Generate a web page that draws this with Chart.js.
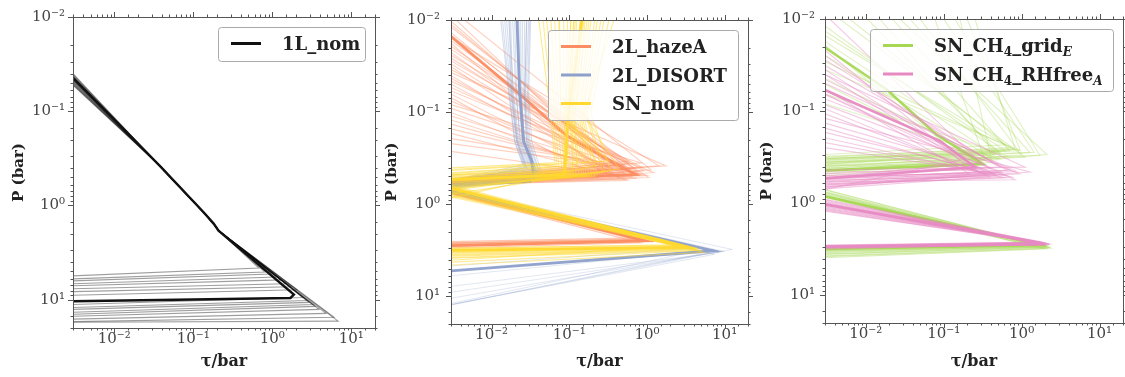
<!DOCTYPE html>
<html>
<head>
<meta charset="utf-8">
<script src="https://cdn.jsdelivr.net/npm/chart.js@4.4.0/dist/chart.umd.min.js"></script>
<style>
  html, body { margin: 0; padding: 0; background: #fff; }
  #wrap { position: relative; width: 1125px; height: 377px; overflow: hidden; }
  canvas { position: absolute; top: 0; }
</style>
</head>
<body>
<div id="wrap">
  <canvas id="c1" width="390" height="377" style="left:0px"></canvas>
  <canvas id="c2" width="385" height="377" style="left:378px"></canvas>
  <canvas id="c3" width="373" height="377" style="left:752px"></canvas>
</div>
<script>
// ---- axes ----
const TAU_MIN = 0.003, TAU_MAX = 20;
const P_MIN = 0.01, P_MAX = 20;

// ---- panel 1 : 1L_nom ----
const nomBold = [[0.003,0.0445],[0.0108,0.131],[0.0385,0.387],[0.136,1.19],[0.181,1.56],[0.209,1.85],[1.88,8.85],[1.7,9.6],[0.1,9.95],[0.003,10.4]];
const nomMid = [[0.0385,0.387],[0.136,1.19],[0.181,1.56],[0.209,1.85]];
const nomTopP = [0.040,0.042,0.047,0.050,0.043,0.046,0.052,0.044,0.048,0.041,0.053,0.045,0.049,0.043,0.047,0.051,0.044];
const nomTipTau = [0.676,0.805,0.96,1.11,1.29,1.49,1.72,2.05,2.45,2.75,2.92,3.28,3.48,3.91,4.80,6.06,6.81];
const nomTipP = [4.62,5.09,5.34,5.74,6.17,6.79,7.30,7.84,9.51,10.2,10.7,11.25,11.8,12.7,14.0,15.4,16.9];
const nomBaseP = [5.60,6.02,6.32,6.79,7.12,7.66,8.23,8.99,11.25,12.1,12.7,13.6,14.3,15.0,16.1,17.1,17.4];

// ---- panel 2 : 2L_hazeA ----
const hazeBold = [[0.003,0.0151],[0.0235,0.065],[0.093,0.181],[0.262,0.30],[0.72,0.477],[0.003,0.56],null,[0.003,0.74],[0.97,2.5],[0.003,2.82]];
const hazeStartTau = [0.003,0.003,0.003,0.003,0.003,0.003,0.003,0.003,0.003,0.003,0.003,0.003,0.003,0.003,0.003,0.003,0.003,0.003,0.003,0.003,0.0035,0.0045,
  0.003,0.003,0.003,0.003,0.003,0.003,0.003,0.003,0.003,0.003,0.003,0.003,0.003,0.003,0.003,0.003,0.003,0.003];
const hazeStartP = [0.0103,0.0119,0.0137,0.0155,0.0179,0.0207,0.024,0.0278,0.0321,0.0372,0.043,0.0498,0.059,0.070,0.083,0.101,0.122,0.152,0.194,0.267,0.01,0.01,
  0.0112,0.0146,0.0167,0.0193,0.0225,0.0259,0.030,0.0345,0.040,0.046,0.054,0.064,0.076,0.091,0.11,0.135,0.17,0.22];
const hazeTipTau = [0.375,0.680,0.505,1.43,0.279,1.06,0.586,0.915,0.436,1.76,0.680,0.323,1.23,0.240,0.838,0.552,0.343,1.0,0.463,0.743,0.287,1.13,
  0.52,0.61,0.45,0.78,0.35,0.66,0.50,0.88,0.40,0.57,0.72,0.31,0.63,0.47,0.83,0.38,0.55,0.69];
const hazeTipP = [0.356,0.403,0.455,0.384,0.478,0.514,0.340,0.434,0.526,0.384,0.478,0.403,0.455,0.514,0.356,0.552,0.434,0.490,0.374,0.526,0.340,0.423,
  0.39,0.42,0.37,0.45,0.41,0.47,0.43,0.40,0.49,0.36,0.44,0.46,0.50,0.38,0.48,0.42,0.53,0.41];
const hazeBackP = [0.54,0.56,0.58,0.55,0.60,0.57,0.53,0.59,0.61,0.55,0.58,0.56,0.60,0.62,0.54,0.61,0.57,0.59,0.55,0.60,0.53,0.58,
  0.55,0.57,0.54,0.59,0.56,0.60,0.58,0.56,0.61,0.54,0.59,0.57,0.62,0.55,0.60,0.56,0.63,0.57];
const hazeLowStartP = [0.687,0.705,0.721,0.74,0.759,0.777,0.695,0.73,0.765];
const hazeLowTipTau = [0.789,0.864,0.94,1.0,0.89,0.81,0.92,0.84,0.96];
const hazeLowTipP = [2.32,2.38,2.43,2.49,2.55,2.62,2.40,2.46,2.52];
const hazeLowBackP = [2.55,2.62,2.68,2.75,2.82,2.97,2.66,2.78,2.88];

// ---- panel 2 : 2L_DISORT ----
const disBold = [[0.0212,0.01],[0.023,0.062],[0.0259,0.209],[0.0328,0.34],[0.0348,0.49],[0.031,0.566],[0.003,0.624],null,[0.003,0.727],[7.2,3.2],[0.003,5.3]];
const disM1P = 0.0624, disM2P = 0.209;
const disTopTau = [0.0131,0.0147,0.0166,0.0187,0.0210,0.0237,0.0267,0.0300,0.0318,0.0176,0.0223,0.0283,
  0.0138,0.0156,0.0198,0.0223,0.0251,0.0283,0.0309,0.0170];
const disM1Tau = [0.0166,0.0176,0.0192,0.0204,0.0223,0.0237,0.0259,0.0275,0.0300,0.0187,0.0230,0.0267,
  0.0170,0.0183,0.0210,0.0230,0.0245,0.0267,0.0290,0.0180];
const disM2Tau = [0.0198,0.0210,0.0223,0.0237,0.0251,0.0267,0.0283,0.0300,0.0328,0.0216,0.0259,0.0292,
  0.0200,0.0215,0.0230,0.0245,0.0260,0.0280,0.0310,0.0210];
const disBendTau = [0.0251,0.0275,0.0300,0.0328,0.0359,0.0381,0.0404,0.0428,0.0469,0.0283,0.0348,0.0392,
  0.0262,0.0290,0.0315,0.0340,0.0370,0.0395,0.0440,0.0270];
const disBendP = [0.374,0.403,0.434,0.455,0.478,0.501,0.514,0.526,0.54,0.413,0.466,0.501,
  0.39,0.42,0.44,0.46,0.49,0.51,0.53,0.40];
const disLeftP = [0.552,0.579,0.594,0.610,0.624,0.640,0.656,0.672,0.672,0.566,0.624,0.640,
  0.56,0.585,0.60,0.615,0.632,0.648,0.665,0.57];
const disLowStartP = [0.705,0.721,0.74,0.705,0.687,0.721,0.74,0.705,0.721,0.687];
const disLowTipTau = [7.32,6.31,8.49,9.86,12.5,5.43,7.32,8.49,6.31,4.69];
const disLowTipP = [3.26,3.18,3.34,3.26,3.10,3.10,3.51,3.26,3.34,2.96];
const disLowBackP = [5.30,5.99,7.82,9.05,10.5,12.0,12.3,12.4,12.4,4.69];

// ---- panel 2 : SN_nom ----
const snBold = [[0.145,0.01],[0.0986,0.0984],[0.090,0.30],[0.085,0.477],[0.003,0.54],null,[0.003,0.672],[3.48,2.94],[0.003,3.18]];
const snMidP = 0.1057;
const snTopTau = [0.0404,0.0513,0.065,0.0849,0.1045,0.125,0.149,0.179,0.213,0.255,0.323,0.375,0.1143,0.0732,
  0.046,0.058,0.075,0.095,0.115,0.137,0.16,0.19,0.23,0.28,0.12,0.155,0.105,0.17];
const snMidTau = [0.0577,0.065,0.0732,0.0849,0.0986,0.1077,0.1177,0.1327,0.145,0.163,0.189,0.154,0.0929,0.0777,
  0.061,0.069,0.078,0.090,0.103,0.112,0.125,0.139,0.152,0.17,0.096,0.108,0.088,0.118];
const snBendTau = [0.065,0.0732,0.0875,0.0986,0.1143,0.1327,0.154,0.179,0.213,0.271,0.343,0.436,0.240,0.323,
  0.069,0.080,0.093,0.105,0.122,0.143,0.165,0.195,0.23,0.29,0.092,0.11,0.084,0.125];
const snBendP = [0.356,0.384,0.403,0.434,0.455,0.466,0.478,0.49,0.501,0.455,0.434,0.413,0.374,0.340,
  0.37,0.39,0.42,0.44,0.46,0.47,0.485,0.495,0.48,0.44,0.47,0.45,0.49,0.43];
const snLeftP = [0.403,0.455,0.478,0.514,0.54,0.552,0.579,0.61,0.64,0.672,0.705,0.777,0.855,0.42,
  0.43,0.465,0.49,0.525,0.545,0.565,0.59,0.625,0.655,0.69,0.53,0.50,0.56,0.48];
const snLowStartP = [0.624,0.656,0.672,0.705,0.74,0.777,0.815,0.836,0.687,0.721,0.64,0.66,0.69,0.73,0.76,0.80];
const snLowTipTau = [2.83,3.28,3.70,4.04,3.48,4.29,3.09,4.69,5.43,2.92,3.0,3.9,3.3,4.5,3.6,2.7];
const snLowTipP = [2.75,2.89,2.96,3.03,3.10,3.18,2.82,3.18,3.34,2.96,2.85,3.0,2.93,3.12,3.05,2.8];
const snLowBackP = [3.03,3.18,3.34,3.51,3.68,3.87,4.06,4.26,4.58,3.10,3.1,3.4,3.25,3.8,3.6,3.0];

// ---- panel 3 : SN_CH4_grid_E ----
const gridBold = [[0.003,0.0204],[0.0184,0.0578],[0.081,0.180],[0.319,0.377],[0.003,0.44],null,[0.003,0.843],[1.72,2.85],[0.003,3.14]];
const gridStartTau = [0.003,0.003,0.003,0.003,0.00623,0.0151,0.0368,0.0771,0.139,0.252,0.0273,0.003,0.003,0.00463,0.003,0.162,
  0.003,0.003,0.003,0.0105,0.022,0.05,0.1,0.2,0.003,0.003];
const gridStartP = [0.0119,0.0151,0.0247,0.0355,0.01,0.01,0.01,0.01,0.01,0.01,0.01,0.0512,0.0833,0.01,0.0193,0.01,
  0.0135,0.0175,0.029,0.01,0.01,0.01,0.01,0.01,0.044,0.065];
const gridTipTau = [0.527,0.710,0.393,0.953,0.612,0.455,1.28,0.339,1.72,0.822,2.12,0.292,0.527,1.11,0.217,0.417,
  0.62,0.45,0.80,0.52,0.70,1.0,1.45,0.95,0.36,0.66];
const gridTipP = [0.282,0.249,0.318,0.268,0.232,0.282,0.282,0.342,0.303,0.255,0.296,0.359,0.334,0.318,0.377,0.359,
  0.27,0.30,0.26,0.29,0.27,0.30,0.28,0.26,0.33,0.31];
const gridBackP = [0.359,0.318,0.406,0.342,0.296,0.377,0.326,0.436,0.359,0.310,0.458,0.416,0.481,0.387,0.39,0.506,
  0.34,0.37,0.33,0.36,0.35,0.40,0.38,0.33,0.42,0.45];
const gridLowStartP = [0.711,0.746,0.784,0.823,0.865,0.765,0.72,0.76,0.80,0.84];
const gridLowTipTau = [1.88,2.12,2.32,1.72,2.0,1.49,1.95,2.2,1.8,2.05];
const gridLowTipP = [2.92,2.99,3.07,2.85,3.14,2.99,2.95,3.02,2.9,3.1];
const gridLowBackP = [3.38,3.55,3.73,3.22,3.91,3.30,3.45,3.6,3.28,3.8];

// ---- panel 3 : SN_CH4_RHfree_A ----
const rhBold = [[0.003,0.059],[0.0893,0.21],[0.252,0.406],[0.003,0.54],null,[0.003,1.03],[2.0,2.78],[0.003,2.99]];
const rhStartTau = [0.003,0.003,0.003,0.003,0.003,0.003,0.003,0.003,0.003,0.003,0.003,0.00345,0.003,0.003,
  0.003,0.003,0.003,0.003,0.003,0.003,0.003,0.003,0.003,0.003];
const rhStartP = [0.0278,0.0355,0.0453,0.0578,0.0738,0.0942,0.12,0.153,0.195,0.249,0.0401,0.01,0.0218,0.0653,
  0.025,0.032,0.040,0.050,0.066,0.085,0.107,0.135,0.17,0.22];
const rhTipTau = [0.527,0.339,0.710,0.217,0.953,0.393,1.28,0.252,0.612,0.455,1.11,0.292,0.162,0.822,
  0.40,0.65,0.30,0.85,0.48,0.56,0.36,0.75,0.44,0.60];
const rhTipP = [0.406,0.458,0.436,0.481,0.481,0.518,0.458,0.436,0.531,0.481,0.406,0.359,0.342,0.557,
  0.42,0.44,0.47,0.45,0.50,0.46,0.49,0.52,0.47,0.50];
const rhBackP = [0.481,0.531,0.585,0.506,0.614,0.557,0.661,0.458,0.630,0.677,0.436,0.531,0.711,0.585,
  0.50,0.55,0.52,0.60,0.57,0.64,0.54,0.62,0.67,0.70];
const rhLowStartP = [0.908,0.953,1.0,1.05,1.10,1.16,1.22,0.93,0.98,1.03,1.08,1.13,1.19];
const rhLowTipTau = [2.0,2.18,1.88,2.12,1.72,2.32,1.63,1.95,2.1,2.25,1.8,2.05,1.9];
const rhLowTipP = [2.71,2.78,2.65,2.85,2.71,2.78,2.65,2.7,2.75,2.8,2.68,2.74,2.76];
const rhLowBackP = [2.92,2.99,2.85,3.07,2.99,3.14,2.92,2.9,2.95,3.0,2.88,3.05,2.96];

// colours (Set2)
const C_HAZE = "252,141,98";
const C_DIS = "141,160,203";
const C_SN = "255,217,47";
const C_GRID = "166,216,84";
const C_RH = "231,138,195";

const SERIF = "'DejaVu Serif', 'Liberation Serif', serif";
const SUP = { "-2": "\u207B\u00B2", "-1": "\u207B\u00B9", "0": "\u2070", "1": "\u00B9" };

function isDecade(v) {
  const e = Math.log10(v);
  return Math.abs(e - Math.round(e)) < 1e-6;
}

function powLabel(v) {
  if (!isDecade(v)) return "";
  return "10" + SUP[String(Math.round(Math.log10(v)))];
}

function line(points, color, width) {
  return {
    data: points.map(p => (p === null ? [null, null] : p)),
    borderColor: color,
    borderWidth: width,
    pointRadius: 0,
    fill: false,
    clip: 0
  };
}

// V-shaped profile: start -> tip -> back to left edge
function vProfile(startTau, startP, tipTau, tipP, backP) {
  return [[startTau, startP], [tipTau, tipP], [TAU_MIN, backP]];
}

// frame, outward ticks on all four sides, and a matplotlib-like legend
function decorPlugin(legend) {
  return {
    id: "decor",
    afterDraw(chart) {
      const { ctx, chartArea: a } = chart;
      ctx.save();
      ctx.strokeStyle = "#555";
      ctx.lineWidth = 1;
      ctx.strokeRect(Math.round(a.left) + 0.5, Math.round(a.top) + 0.5,
        Math.round(a.right - a.left), Math.round(a.bottom - a.top));

      const xs = chart.scales.x, ys = chart.scales.y;
      ctx.beginPath();
      xs.ticks.forEach(t => {
        const px = Math.round(xs.getPixelForValue(t.value)) + 0.5;
        if (px < a.left - 1 || px > a.right + 1) return;
        const len = isDecade(t.value) ? 5 : 2.5;
        ctx.moveTo(px, a.bottom); ctx.lineTo(px, a.bottom + len);
        ctx.moveTo(px, a.top); ctx.lineTo(px, a.top - len);
      });
      ys.ticks.forEach(t => {
        const py = Math.round(ys.getPixelForValue(t.value)) + 0.5;
        if (py < a.top - 1 || py > a.bottom + 1) return;
        const len = isDecade(t.value) ? 5 : 2.5;
        ctx.moveTo(a.left, py); ctx.lineTo(a.left - len, py);
        ctx.moveTo(a.right, py); ctx.lineTo(a.right + len, py);
      });
      ctx.stroke();

      // legend box
      const x0 = a.right - 10 - legend.width, y0 = a.top + 10;
      ctx.beginPath();
      ctx.roundRect(x0 + 0.5, y0 + 0.5, legend.width, legend.height, 3);
      ctx.fillStyle = "rgba(255,255,255,0.8)";
      ctx.fill();
      ctx.strokeStyle = "#aaa";
      ctx.stroke();

      legend.items.forEach((it, i) => {
        const cy = y0 + 16.5 + i * 28.5;
        ctx.beginPath();
        ctx.strokeStyle = it.color;
        ctx.lineWidth = 3;
        ctx.moveTo(x0 + 13, cy);
        ctx.lineTo(x0 + 43, cy);
        ctx.stroke();

        let tx = x0 + 64;
        ctx.fillStyle = "#222";
        ctx.textBaseline = "alphabetic";
        it.segs.forEach(([txt, kind]) => {
          const sub = kind !== "";
          ctx.font = (kind === "subi" ? "italic " : "") + "bold " + (sub ? 12 : 18) + "px " + SERIF;
          ctx.fillText(txt, tx, cy + 6.5 + (sub ? 4 : 0));
          tx += ctx.measureText(txt).width;
        });
      });
      ctx.restore();
    }
  };
}

function makeChart(id, paintOrder, cfg) {
  return new Chart(document.getElementById(id), {
    type: "line",
    data: { datasets: paintOrder.slice().reverse() },
    options: {
      responsive: false,
      animation: false,
      events: [],
      layout: { padding: { left: 0, top: 13, right: cfg.padRight, bottom: 0 } },
      plugins: { legend: { display: false }, tooltip: { enabled: false } },
      elements: { point: { radius: 0 }, line: { tension: 0 } },
      scales: {
        x: {
          type: "logarithmic",
          min: TAU_MIN,
          max: TAU_MAX,
          afterFit: s => { s.height = cfg.xHeight; },
          grid: { display: false, drawTicks: false },
          border: { display: false },
          ticks: {
            autoSkip: false, maxRotation: 0, padding: 2, color: "#444",
            font: { family: SERIF, size: 15 },
            callback: v => powLabel(v)
          },
          title: {
            display: true, text: "\u03C4/bar", color: "#222",
            font: { family: SERIF, size: 16, weight: "bold" },
            padding: { top: 0, bottom: 6 }
          }
        },
        y: {
          type: "logarithmic",
          reverse: true,
          min: P_MIN,
          max: P_MAX,
          afterFit: s => { s.width = 73; },
          grid: { display: false, drawTicks: false },
          border: { display: false },
          ticks: {
            autoSkip: false, padding: cfg.yTickPad, color: "#444",
            font: { family: SERIF, size: 15 },
            callback: v => powLabel(v)
          },
          title: {
            display: true, text: "P (bar)", color: "#222",
            font: { family: SERIF, size: 15, weight: "bold" },
            padding: { top: cfg.yTitlePad, bottom: 0 }
          }
        }
      }
    },
    plugins: [decorPlugin(cfg.legend)]
  });
}

// ---- panel 1 ----
const p1 = [];
nomTopP.forEach((p, i) => {
  p1.push(line([[TAU_MIN, p], ...nomMid, [nomTipTau[i], nomTipP[i]], [TAU_MIN, nomBaseP[i]]], "rgba(0,0,0,0.38)", 1.1));
});
p1.push(line(nomBold, "#111", 2.4));

makeChart("c1", p1, {
  padRight: 15, xHeight: 49, yTickPad: 8, yTitlePad: 10,
  legend: { width: 147, height: 34, items: [{ color: "#111", segs: [["1L_nom", ""]] }] }
});

// ---- panel 2 ----
const p2 = [];
hazeStartP.forEach((p, i) => {
  p2.push(line(vProfile(hazeStartTau[i], p, hazeTipTau[i], hazeTipP[i], hazeBackP[i]), `rgba(${C_HAZE},0.4)`, 1.1));
});
hazeLowStartP.forEach((p, i) => {
  p2.push(line(vProfile(TAU_MIN, p, hazeLowTipTau[i], hazeLowTipP[i], hazeLowBackP[i]), `rgba(${C_HAZE},0.5)`, 1.1));
});
p2.push(line(hazeBold, `rgba(${C_HAZE},0.95)`, 2.8));

disTopTau.forEach((t, i) => {
  p2.push(line([[t, P_MIN], [disM1Tau[i], disM1P], [disM2Tau[i], disM2P], [disBendTau[i], disBendP[i]], [TAU_MIN, disLeftP[i]]], `rgba(${C_DIS},0.35)`, 1.1));
});
disLowStartP.forEach((p, i) => {
  p2.push(line(vProfile(TAU_MIN, p, disLowTipTau[i], disLowTipP[i], disLowBackP[i]), `rgba(${C_DIS},0.25)`, 1));
});
p2.push(line(disBold, `rgba(${C_DIS},0.95)`, 2.8));

snTopTau.forEach((t, i) => {
  p2.push(line([[t, P_MIN], [snMidTau[i], snMidP], [snBendTau[i], snBendP[i]], [TAU_MIN, snLeftP[i]]], `rgba(${C_SN},0.55)`, 1.1));
});
snLowStartP.forEach((p, i) => {
  p2.push(line(vProfile(TAU_MIN, p, snLowTipTau[i], snLowTipP[i], snLowBackP[i]), `rgba(${C_SN},0.5)`, 1.1));
});
p2.push(line(snBold, `rgba(${C_SN},0.95)`, 2.8));

makeChart("c2", p2, {
  padRight: 15, xHeight: 53, yTickPad: 11, yTitlePad: 5.5,
  legend: {
    width: 190, height: 90, items: [
      { color: `rgb(${C_HAZE})`, segs: [["2L_hazeA", ""]] },
      { color: `rgb(${C_DIS})`, segs: [["2L_DISORT", ""]] },
      { color: `rgb(${C_SN})`, segs: [["SN_nom", ""]] }
    ]
  }
});

// ---- panel 3 ----
const p3 = [];
gridStartP.forEach((p, i) => {
  p3.push(line(vProfile(gridStartTau[i], p, gridTipTau[i], gridTipP[i], gridBackP[i]), `rgba(${C_GRID},0.35)`, 1.1));
});
gridLowStartP.forEach((p, i) => {
  p3.push(line(vProfile(TAU_MIN, p, gridLowTipTau[i], gridLowTipP[i], gridLowBackP[i]), `rgba(${C_GRID},0.4)`, 1.1));
});
p3.push(line(gridBold, `rgba(${C_GRID},0.95)`, 2.6));

rhStartP.forEach((p, i) => {
  p3.push(line(vProfile(rhStartTau[i], p, rhTipTau[i], rhTipP[i], rhBackP[i]), `rgba(${C_RH},0.45)`, 1.1));
});
rhLowStartP.forEach((p, i) => {
  p3.push(line(vProfile(TAU_MIN, p, rhLowTipTau[i], rhLowTipP[i], rhLowBackP[i]), `rgba(${C_RH},0.5)`, 1.1));
});
p3.push(line(rhBold, `rgba(${C_RH},0.95)`, 2.6));

makeChart("c3", p3, {
  padRight: 2, xHeight: 54, yTickPad: 10, yTitlePad: 6.5,
  legend: {
    width: 243, height: 62, items: [
      { color: `rgb(${C_GRID})`, segs: [["SN_CH", ""], ["4", "sub"], ["_grid", ""], ["E", "subi"]] },
      { color: `rgb(${C_RH})`, segs: [["SN_CH", ""], ["4", "sub"], ["_RHfree", ""], ["A", "subi"]] }
    ]
  }
});
</script>
</body>
</html>
